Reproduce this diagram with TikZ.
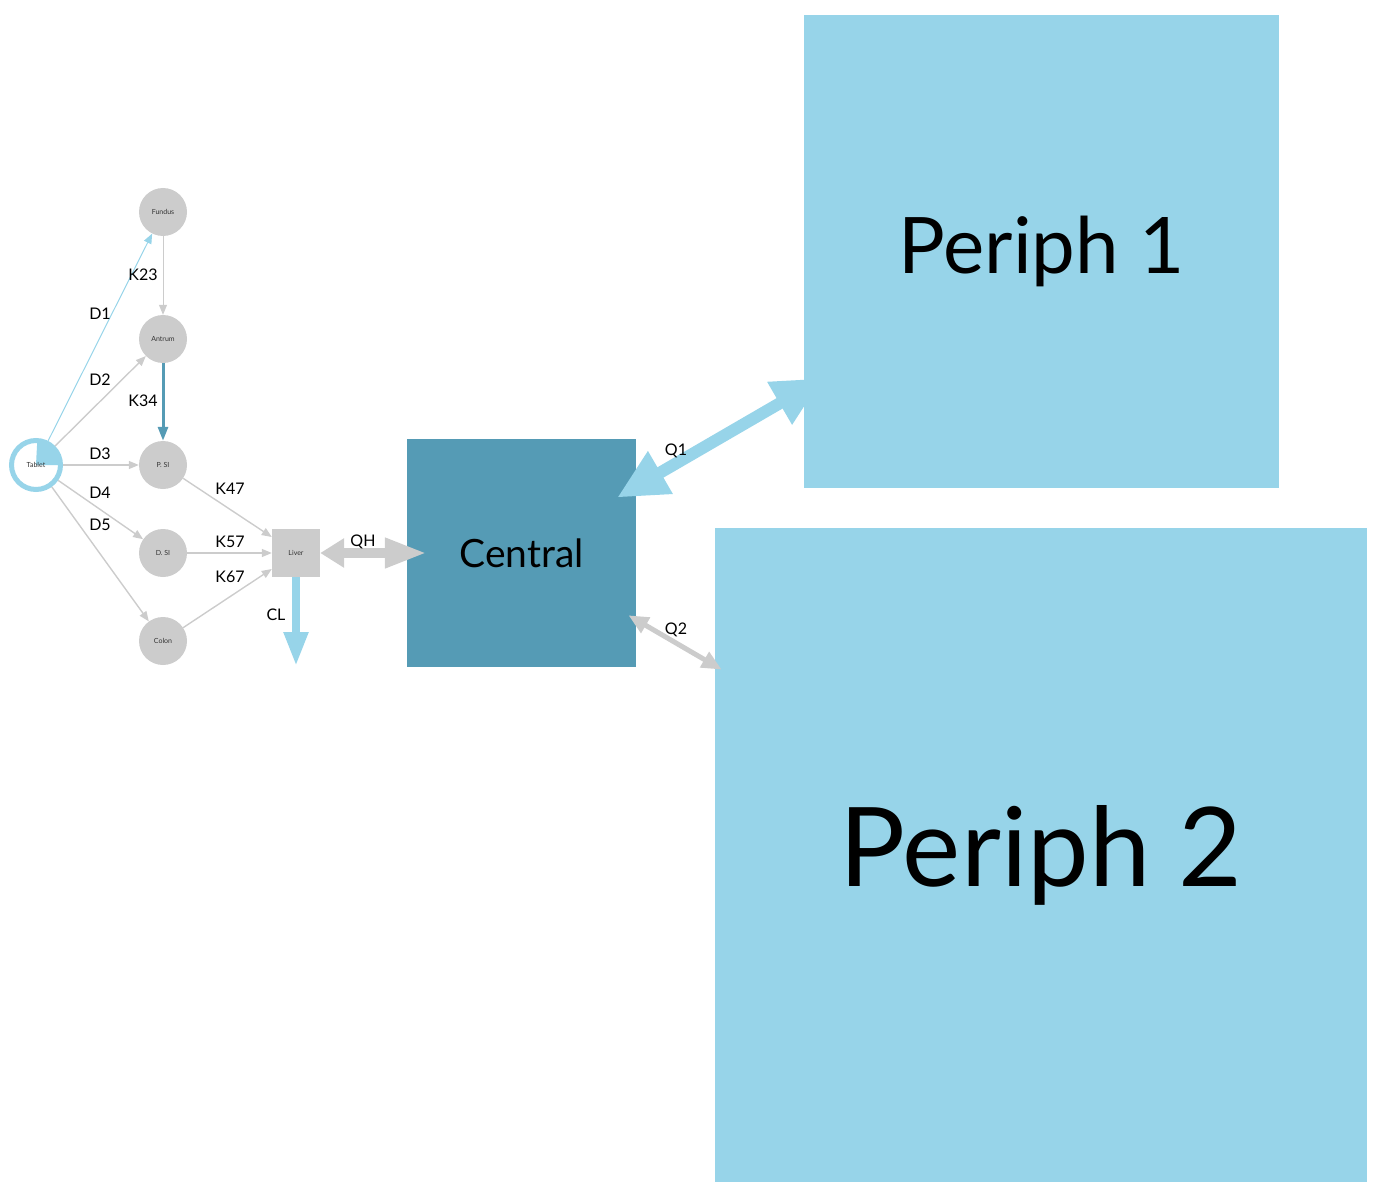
\documentclass[tikz,border=0pt]{standalone}
\usepackage{fontspec}
\setmainfont{Lato}
\usepackage{tikz}
\usetikzlibrary{arrows.meta,positioning,calc}
\definecolor{gutgray}{RGB}{204,204,204}
\definecolor{cmtblue}{RGB}{151,212,233}
\definecolor{cmtteal}{RGB}{85,155,181}
\pgfdeclarelayer{front}
\pgfsetlayers{main,front}

\begin{document}
\begin{tikzpicture}[
    x=1pt, y=-1pt,
    gut/.style={circle, fill=gutgray, minimum size=48pt, inner sep=0pt, font=\fontsize{7}{8}\selectfont, text=black!80},
    organ/.style={rectangle, fill=gutgray, minimum size=48pt, inner sep=0pt, font=\fontsize{7}{8}\selectfont, text=black!80},
    comp/.style={rectangle, inner sep=0pt, text=black},
    lbl/.style={inner sep=0pt, font=\fontsize{16}{18}\selectfont},
    flow/.style={-{Triangle[length=10pt,width=8pt]}, line width=1.4pt, draw=gutgray},
    dose/.style={flow, draw=cmtblue, line width=1pt}
]
    \useasboundingbox (0,0) rectangle (1380,1190);

    % absorption compartments
    \node[circle, draw=cmtblue, fill=white, line width=5pt, minimum size=49pt, inner sep=0pt,
          font=\fontsize{7}{8}\selectfont, text=black!80,
          path picture={\fill[cmtblue] (path picture bounding box.center) -- ++(26,0)
              arc[start angle=0, end angle=-87, radius=26] -- cycle;}] (tablet) at (36,465) {Tablet};
    \node[gut] (fundus) at (163,212) {Fundus};
    \node[gut] (antrum) at (163,339) {Antrum};
    \node[gut] (psi) at (163,465) {P. SI};
    \node[gut] (dsi) at (163,553) {D. SI};
    \node[gut] (colon) at (163,641) {Colon};
    \node[organ] (liver) at (296,553) {Liver};

    % systemic compartments
    \node[comp, fill=cmtteal, minimum width=229pt, minimum height=228pt, font=\fontsize{39}{44}\selectfont] (central) at (521.5,553) {Central};
    \node[comp, fill=cmtblue, minimum width=652pt, minimum height=654pt, font=\fontsize{110}{120}\selectfont] (periph2) at (1041,855) {Periph 2};
    \begin{pgfonlayer}{front}
    \node[comp, fill=cmtblue, minimum width=475pt, minimum height=473pt, font=\fontsize{78}{86}\selectfont] (periph1) at (1041.5,251.5) {Periph 1};
    \end{pgfonlayer}

    % gut transfers
    \draw[dose] (tablet) -- (fundus);
    \draw[flow] (tablet) -- (antrum);
    \draw[flow] (tablet) -- (psi);
    \draw[flow] (tablet) -- (dsi);
    \draw[flow] (tablet) -- (colon);
    \draw[flow, line width=1pt] (fundus) -- (antrum);
    \draw[-{Triangle[length=14pt,width=10pt]}, line width=3pt, draw=cmtteal] (antrum) -- (psi);
    \draw[flow] (psi) -- (liver);
    \draw[flow] (dsi) -- (liver);
    \draw[flow] (colon) -- (liver);

    % hepatic flow, clearance, distribution
    \coordinate (clout) at (296,666);
    \draw[line width=8pt, draw=cmtblue, -{Triangle[length=34pt,width=23pt]}] (liver) -- (clout);
    \draw[line width=10pt, draw=gutgray, {Triangle[length=24pt,width=28pt]}-{Triangle[length=42pt,width=28pt]}, shorten >=-20pt] (liver) -- (central);
    \draw[line width=5pt, draw=gutgray, {Triangle[length=20pt,width=17pt]}-{Triangle[length=20pt,width=17pt]}, shorten <=-9pt, shorten >=-8pt] (central) -- (periph2);
    \draw[line width=12pt, draw=cmtblue, {Triangle[length=50pt,width=46pt]}-{Triangle[length=50pt,width=46pt]}, shorten <=-22pt, shorten >=-22pt] (central) -- (periph1);

    % rate labels
    \node[lbl] (lD1) at (100,314) {D1};
    \node[lbl] (lD2) at (100,380) {D2};
    \node[lbl] (lD3) at (100,454) {D3};
    \node[lbl] (lD4) at (100,493) {D4};
    \node[lbl] (lD5) at (100,525) {D5};
    \node[lbl] (lK23) at (143,275) {K23};
    \node[lbl] (lK34) at (143,401) {K34};
    \node[lbl] (lK47) at (230,489) {K47};
    \node[lbl] (lK57) at (230,542) {K57};
    \node[lbl] (lK67) at (230,577) {K67};
    \node[lbl] (lQH) at (363,542) {QH};
    \node[lbl] (lCL) at (276,615) {CL};
    \node[lbl] (lQ1) at (676,451) {Q1};
    \node[lbl] (lQ2) at (676,630) {Q2};
\end{tikzpicture}
\end{document}
